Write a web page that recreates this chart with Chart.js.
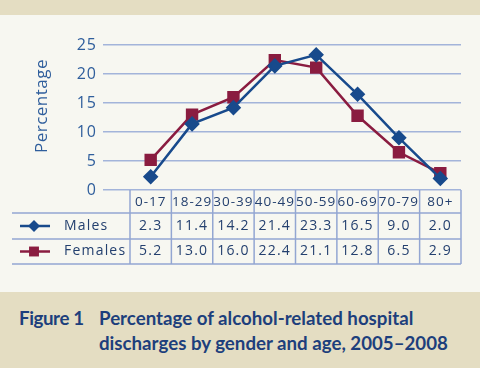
<!DOCTYPE html>
<html>
<head>
<meta charset="utf-8">
<script src="https://cdn.jsdelivr.net/npm/chart.js@4"></script>
<style>
  body { margin: 0; width: 480px; height: 368px; position: relative; background: #f7f7f1; overflow: hidden; }
  .band { position: absolute; left: 0; width: 480px; background: #e4ddc2; }
  .cap { position: absolute; font-family: Lato, sans-serif; font-weight: bold; font-size: 18.7px; color: #1d3f7c; line-height: 25px; white-space: nowrap; }
  canvas { position: absolute; left: 0; top: 0; }
</style>
</head>
<body>
<div class="band" style="top:0;height:15px"></div>
<div class="band" style="top:292px;height:76px"></div>
<div class="cap" style="left:19px;top:306px;letter-spacing:-0.4px">Figure 1</div>
<div class="cap" style="left:99px;top:306px">Percentage of alcohol-related hospital<br>discharges by gender and age, 2005–2008</div>
<canvas id="c" width="480" height="368"></canvas>
<script>
const ageGroups = ['0-17', '18-29', '30-39', '40-49', '50-59', '60-69', '70-79', '80+'];
const males = [2.3, 11.4, 14.2, 21.4, 23.3, 16.5, 9.0, 2.0];
const females = [5.2, 13.0, 16.0, 22.4, 21.1, 12.8, 6.5, 2.9];
const seriesNames = ['Males', 'Females'];
const yTitle = 'Percentage';

const maleColor = '#184a8c';
const femaleColor = '#8a1c40';
const lineCol = '#93a6d2';
const textCol = '#24406f';
const axisCol = '#2f5e9c';

// draws the data table under the plot, lined up with the x scale
const tablePlugin = {
    id: 'table',
    beforeDraw(chart) {
        chart.ctx.letterSpacing = '1px';
    },
    afterDraw(chart) {
        const ctx = chart.ctx;
        const x = chart.scales.x;
        const ca = chart.chartArea;
        const step = x.getPixelForValue(1) - x.getPixelForValue(0);
        const rows = [ca.bottom + 23, ca.bottom + 49, ca.bottom + 74];
        ctx.save();
        // y axis title, sits a bit above the middle like the original
        ctx.save();
        ctx.translate(42, 106);
        ctx.rotate(-Math.PI / 2);
        ctx.font = '17px "Open Sans", sans-serif';
        ctx.letterSpacing = '0.5px';
        ctx.fillStyle = axisCol;
        ctx.textAlign = 'center';
        ctx.textBaseline = 'middle';
        ctx.fillText(yTitle, 0, 0);
        ctx.restore();

        ctx.strokeStyle = lineCol;
        ctx.lineWidth = 1.5;
        rows.forEach(y => {
            ctx.beginPath();
            ctx.moveTo(12, y);
            ctx.lineTo(ca.right, y);
            ctx.stroke();
        });
        for (let i = 0; i <= ageGroups.length; i++) {
            const bx = x.getPixelForValue(0) - step / 2 + i * step;
            ctx.beginPath();
            ctx.moveTo(bx, ca.bottom);
            ctx.lineTo(bx, rows[2]);
            ctx.stroke();
        }
        ctx.font = '14px "Open Sans", sans-serif';
        ctx.letterSpacing = '1.2px';
        ctx.fillStyle = textCol;
        ctx.textBaseline = 'middle';
        chart.data.datasets.forEach((ds, r) => {
            const y = (rows[r] + rows[r + 1]) / 2;
            ctx.textAlign = 'left';
            ctx.fillText(seriesNames[r], 64, y);
            ctx.textAlign = 'center';
            ds.data.forEach((v, i) => {
                ctx.fillText(v.toFixed(1), x.getPixelForValue(i), y);
            });
            ctx.strokeStyle = ds.borderColor;
            ctx.lineWidth = 2.5;
            ctx.beginPath();
            ctx.moveTo(20, y);
            ctx.lineTo(50, y);
            ctx.stroke();
            ctx.fillStyle = ds.borderColor;
            Chart.helpers.drawPoint(ctx, {pointStyle: ds.pointStyle, radius: ds.pointRadius, rotation: 0, borderWidth: 0}, 34, y);
            ctx.fillStyle = textCol;
        });
        ctx.restore();
    }
};

new Chart(document.getElementById('c'), {
    type: 'line',
    data: {
        labels: ageGroups,
        datasets: [
            {
                label: 'Males', data: males,
                borderColor: maleColor, backgroundColor: maleColor,
                borderWidth: 2.5, pointStyle: 'rectRot', pointRadius: 6
            },
            {
                label: 'Females', data: females,
                borderColor: femaleColor, backgroundColor: femaleColor,
                borderWidth: 2.5, pointStyle: 'rect', pointRadius: 7
            }
        ]
    },
    options: {
        responsive: false,
        animation: false,
        layout: { padding: { left: 0, right: 19, top: 45, bottom: 0 } },
        plugins: { legend: { display: false }, tooltip: { enabled: false } },
        scales: {
            x: {
                offset: true,
                grid: { display: false, drawTicks: false },
                border: { display: false },
                ticks: { color: textCol, font: { family: 'Open Sans', size: 13.5 }, padding: 4, maxRotation: 0, autoSkip: false },
                afterFit: s => { s.height = 178; }
            },
            y: {
                min: 0, max: 25,
                grid: { color: '#a3b4da', lineWidth: 1.5, drawTicks: true, tickLength: 27 },
                border: { display: false },
                ticks: { stepSize: 5, color: axisCol, font: { family: 'Open Sans', size: 16 }, padding: 6 },
                afterFit: s => { s.width = 130; }
            }
        }
    },
    plugins: [tablePlugin]
});
</script>
</body>
</html>
